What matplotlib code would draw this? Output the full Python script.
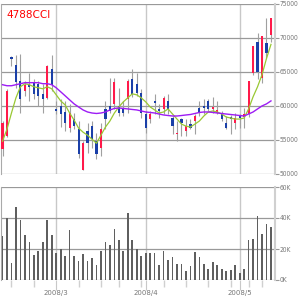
import numpy as np
from matplotlib import pyplot as plt

# daily candles (61 sessions, 2008/2 - 2008/5)
opens = [53630, 55560, 67140, 66100, 63720, 62240, 63280, 63420, 63280, 61790,
         61200, 65500, 59570, 60010, 59120, 56750, 58080, 56600, 50660, 56300,
         57040, 54820, 53780, 59570, 60010, 60310, 60010, 59570, 61050, 64020,
         63280, 61940, 58820, 58080, 60750, 59570, 59570, 60750, 58230, 55860,
         58080, 56300, 57340, 57790, 59720, 60010, 60750, 59570, 58970, 58820,
         57490, 58380, 57490, 58680, 58380, 58820, 64910, 69360, 64170, 69210,
         70400]
highs = [57790, 62530, 67280, 67430, 67580, 63720, 64910, 64020, 63720, 63280,
         66100, 67430, 60750, 61050, 60750, 60310, 58970, 57790, 54820, 57490,
         57790, 56000, 57490, 60750, 64170, 64170, 62680, 60750, 64020, 65500,
         64910, 62530, 59270, 59270, 61790, 60310, 61500, 61790, 58530, 57790,
         58230, 58080, 58080, 58820, 60750, 61050, 61050, 61350, 60750, 59270,
         58530, 58680, 58970, 58820, 59720, 63720, 68770, 70700, 70250, 72920,
         72920]
lows = [52590, 55410, 65950, 62680, 58970, 61500, 60750, 61050, 60010, 58970,
        61050, 62240, 58820, 56900, 56300, 56150, 56600, 52300, 50660, 53040,
        53780, 52150, 52590, 56600, 58970, 59570, 58530, 58530, 58970, 61350,
        61500, 58230, 56000, 57490, 58820, 58230, 58820, 58820, 55860, 54820,
        55560, 55560, 56600, 55860, 58530, 58820, 59270, 58970, 58820, 57790,
        56600, 55860, 56600, 56750, 56750, 58380, 64610, 64020, 63420, 66990,
        69360]
closes = [57490, 62240, 66840, 63570, 61050, 63130, 62830, 61790, 61500, 61050,
          65950, 63130, 59270, 58820, 57490, 58970, 57040, 52890, 54520, 54520,
          55110, 52890, 56600, 58080, 59270, 63570, 58970, 58970, 63720, 61790,
          61940, 58970, 56750, 58820, 60460, 59270, 61200, 59570, 57040, 56000,
          57490, 57040, 56750, 58530, 58970, 59720, 59570, 59870, 59420, 58080,
          56750, 58080, 58230, 58230, 58820, 63720, 68770, 65060, 70250, 67730,
          72920]
volumes = [28.5, 39.8, 11.0, 47.4, 38.9, 29.2, 24.2, 16.2, 19.0, 24.6,
           38.9, 29.2, 17.5, 20.1, 15.6, 32.4, 15.6, 12.5, 16.9, 12.5,
           14.3, 9.7, 19.0, 24.6, 22.7, 33.1, 25.9, 18.4, 43.5, 25.9,
           19.9, 15.6, 17.5, 17.5, 17.5, 9.7, 18.8, 13.0, 14.9, 10.2,
           10.2, 5.8, 9.1, 18.2, 14.9, 10.4, 7.1, 11.7, 9.7, 7.1,
           5.8, 6.5, 9.7, 4.5, 7.1, 25.9, 26.6, 41.5, 29.8, 36.3,
           34.4]  # thousands of shares
ma_short = [54820, 56600, 58970, 61200, 62830, 63280, 63130, 62830, 62680, 62530,
            62830, 62530, 61640, 60750, 60160, 58970, 57930, 56750, 56150, 55710,
            55110, 54520, 55710, 56900, 57790, 58970, 59860, 60610, 61200, 61790,
            61640, 61200, 60610, 59860, 59420, 58970, 59120, 59570, 58820, 58080,
            57340, 57040, 56900, 57340, 57790, 58530, 59120, 59270, 59120, 58820,
            58380, 58230, 58080, 58080, 58230, 59570, 61350, 62830, 64610, 66990,
            69060]
ma_long = [63130, 62980, 62980, 63130, 63280, 63430, 63430, 63430, 63430, 63280,
           63280, 63130, 62680, 62090, 61500, 60900, 60310, 59860, 59420, 59120,
           58970, 58900, 58970, 59120, 59420, 59640, 59710, 59640, 59570, 59490,
           59420, 59270, 59120, 59050, 58970, 58820, 58680, 58600, 58530, 58530,
           58600, 58680, 58750, 58900, 59050, 59120, 59120, 59050, 58970, 58900,
           58820, 58750, 58680, 58600, 58530, 58820, 59120, 59570, 60010, 60310,
           60750]
month_pos = [12, 32, 53]
month_labels = ["2008/3", "2008/4", "2008/5"]
week_pos = [2, 7, 17, 22, 26, 31, 36, 41, 46, 51, 55, 58]

opens = np.array(opens)
closes = np.array(closes)
idx = np.arange(len(opens))
up = closes >= opens

fig = plt.figure(figsize=(3, 3), dpi=100)
ax1 = fig.add_axes([1/300, 1 - 174/300, 274/300, 170/300])
ax2 = fig.add_axes([1/300, 1 - 280/300, 274/300, 93/300])

grid_c = "#999999"
lbl_c = "#777777"

# price panel
ax1.vlines(idx, lows, highs, color="#a0a0a0", lw=0.8, zorder=2)
body_h = np.maximum(np.abs(closes - opens), 120)
ax1.bar(idx, body_h, bottom=np.minimum(opens, closes), width=0.48,
        color=np.where(up, "#ff1a4a", "#1a3fa8"), zorder=3)
ax1.plot(idx, ma_short, color="#99c833", lw=0.9, zorder=4)
ax1.plot(idx, ma_long, color="#9d1cf5", lw=1.0, zorder=4)

ax1.set_ylim(50000, 75000)
ax1.set_yticks(np.arange(50000, 75001, 5000))

# volume panel
ax2.bar(idx, volumes, width=0.38, color="#5f5f5f", zorder=3)
ax2.set_ylim(0, 60)
ax2.set_yticks([0, 20, 40, 60])
ax2.set_yticklabels(["0K", "20K", "40K", "60K"])

for ax in (ax1, ax2):
    ax.set_xlim(-0.34, 60.9)
    ax.yaxis.tick_right()
    ax.tick_params(axis="y", length=3, width=0.8, color=grid_c, labelsize=4.8,
                   labelcolor=lbl_c, pad=0.5)
    for t in ax.get_yticklabels():
        t.set_fontstretch("condensed")
    ax.grid(axis="y", color=grid_c, lw=0.9, zorder=0)
    for m in month_pos:
        ax.axvline(m, color="#c8c8c8", lw=1.0, zorder=1)
    for s in ("top", "bottom"):
        ax.spines[s].set_visible(False)
    ax.spines["left"].set_color("#aaaaaa")
    ax.spines["left"].set_linewidth(0.8)
    ax.spines["right"].set_color("#d0d0d0")
    ax.spines["right"].set_linewidth(1.5)

ax1.set_xticks([])
ax2.set_xticks(month_pos)
ax2.set_xticklabels(month_labels)
ax2.set_xticks(week_pos, minor=True)
ax2.tick_params(axis="x", which="major", length=7, color="#c8c8c8", labelsize=5,
                labelcolor=lbl_c, pad=0.5)
ax2.tick_params(axis="x", which="minor", length=5, color="#d0d0d0", width=1)

ax1.text(5/274, 0.935, "4788CCI", transform=ax1.transAxes, color="#ff0000",
         fontsize=7.5, va="center", ha="left")

plt.savefig("out.png", dpi=100)
